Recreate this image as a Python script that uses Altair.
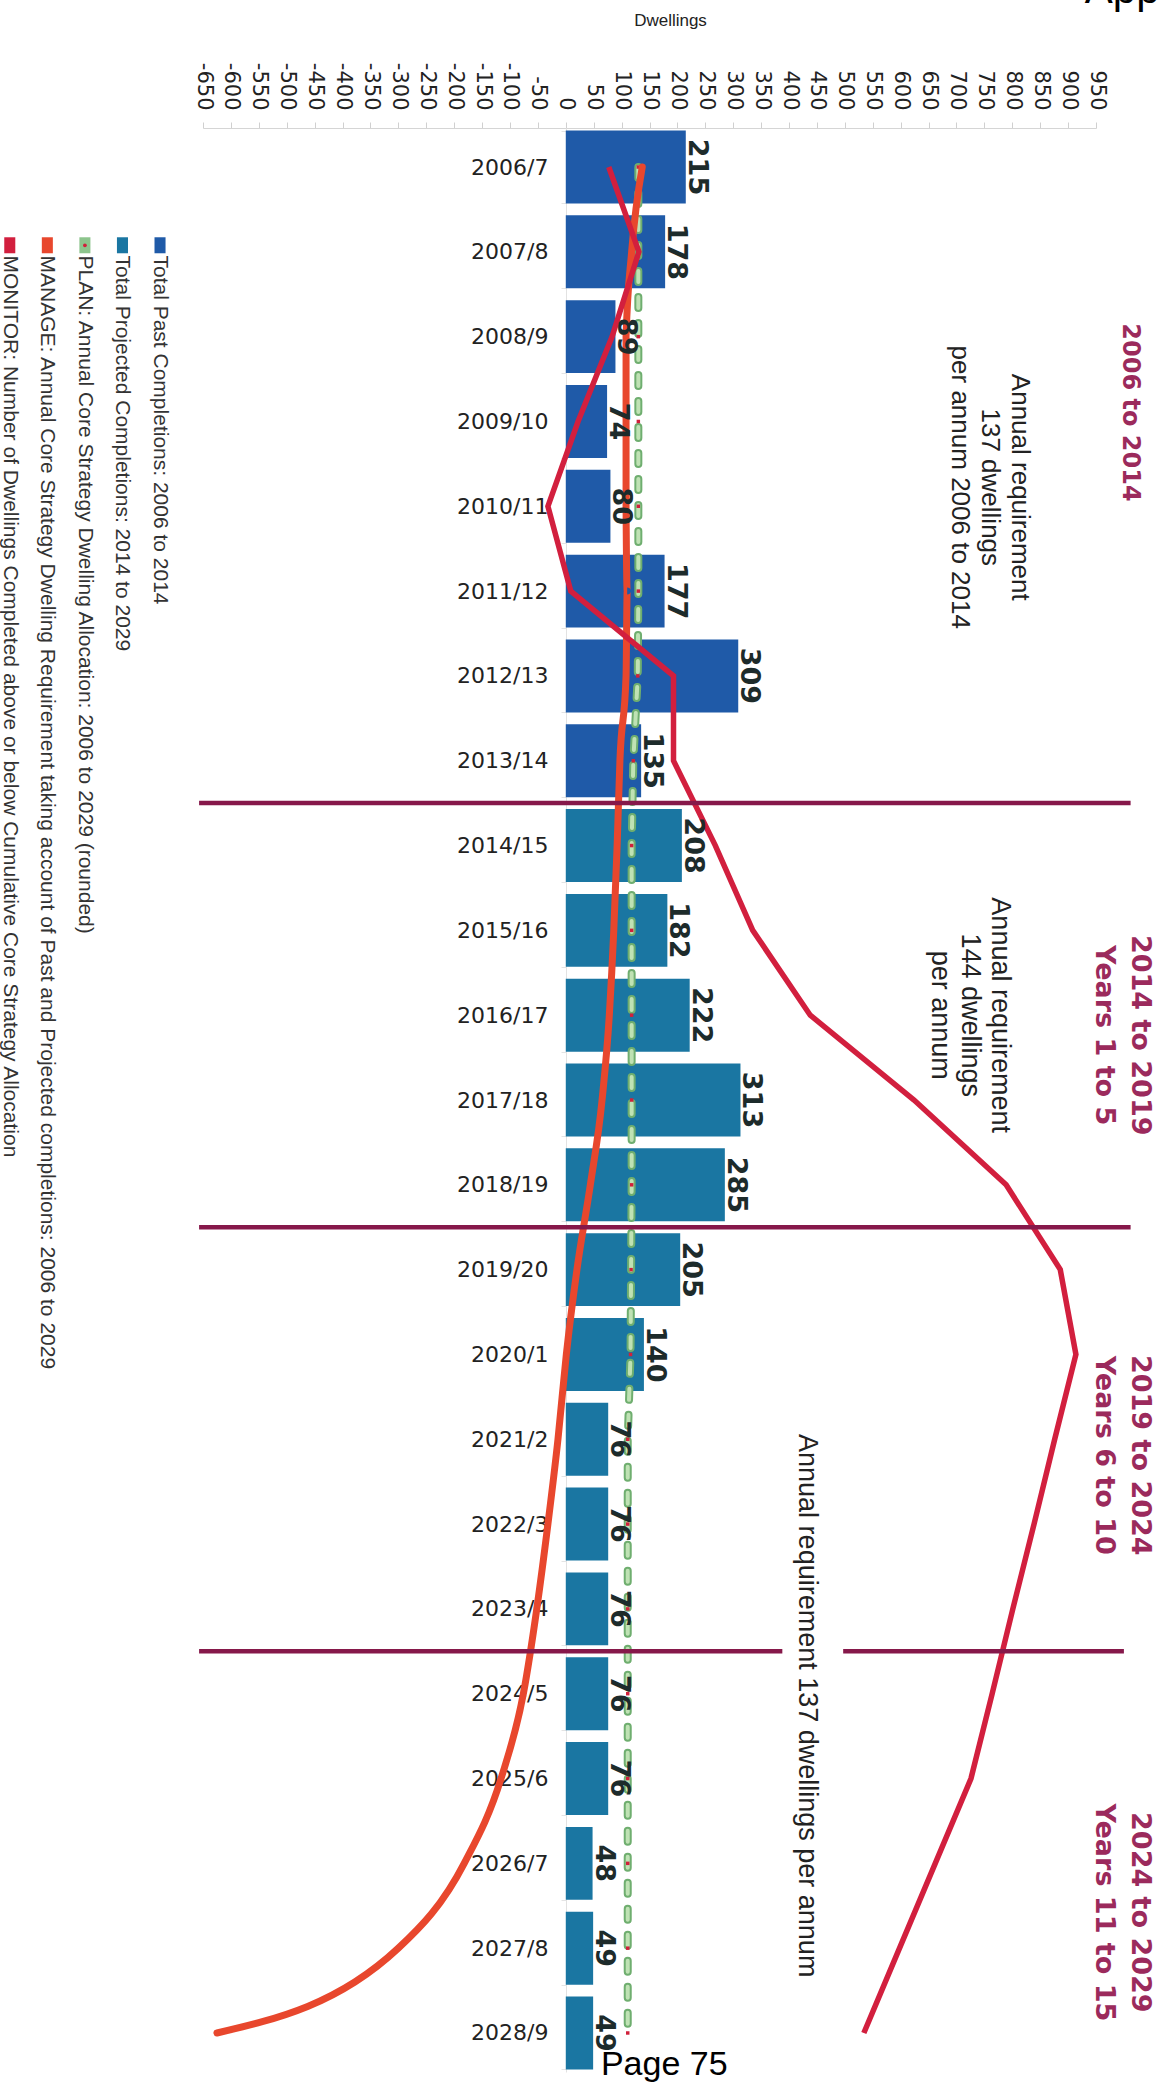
import altair as alt
import pandas as pd

# ---------------- data ----------------
categories = ["2006/7", "2007/8", "2008/9", "2009/10", "2010/11", "2011/12", "2012/13", "2013/14",
              "2014/15", "2015/16", "2016/17", "2017/18", "2018/19", "2019/20", "2020/1", "2021/2",
              "2022/3", "2023/4", "2024/5", "2025/6", "2026/7", "2027/8", "2028/9"]
completions = [215, 178, 89, 74, 80, 177, 309, 135, 208, 182, 222, 313, 285, 205, 140,
               76, 76, 76, 76, 76, 48, 49, 49]
series_names = ["Total Past Completions: 2006 to 2014", "Total Projected Completions: 2014 to 2029"]
completion_type = [series_names[0]] * 8 + [series_names[1]] * 15
plan = [130, 130, 130, 130, 130, 130, 129, 121, 118, 118, 118, 118, 118, 117, 116,
        111, 111, 111, 111, 111, 111, 111, 111]
manage = [137, 118, 108, 108, 108, 110, 108, 97, 92, 86, 78, 65, 44, 20, 1,
          -14, -32, -52, -76, -116, -182, -300, -625]
monitor = [77, 131, 83, 22, -32, 9, 193, 193, 268, 335, 438, 624, 789, 886, 914,
           876, 839, 801, 764, 726, 662, 598, 534]
x_ticks = list(range(-650, 951, 50))

legend_labels = [
    "Total Past Completions: 2006 to 2014",
    "Total Projected Completions: 2014 to 2029",
    "PLAN: Annual Core Strategy Dwelling Allocation: 2006 to 2029 (rounded)",
    "MANAGE: Annual Core Strategy Dwelling Requirement taking account of Past and Projected completions: 2006 to 2029",
    "MONITOR: Number of Dwellings Completed above or below Cumulative Core Strategy Allocation",
]
legend_colors = ["#1f5aa8", "#1a76a2", "#8cc48c", "#e8472d", "#d21f3e"]

period_starts = ["2014/15", "2019/20", "2024/5"]

# ---------------- styling / layout ----------------
C_PAST, C_PROJ = "#1f5aa8", "#1a76a2"
C_MANAGE, C_MONITOR = "#e8472d", "#d21f3e"
C_DIV, C_PERIOD = "#86184a", "#9b2a5c"
W, H = 893, 1944

xscale = alt.Scale(domain=[-650, 950], nice=False, zero=False)
yscale = alt.Scale(domain=categories, paddingInner=0.14, paddingOuter=0.03)

x_axis = alt.Axis(orient="top", values=x_ticks, labelAngle=90, labelAlign="right",
                  labelBaseline="middle", labelExpr="'' + datum.value",
                  labelFont="DejaVu Sans", labelFontSize=21, labelColor="#222",
                  labelPadding=12, labelOverlap=False, labelFlush=False,
                  tickSize=6, tickColor="#d0d0d0", domainColor="#d5d5d5", grid=False,
                  title="Dwellings", titleFont="Liberation Sans", titleFontSize=17,
                  titleFontWeight="normal", titleColor="#222", titlePadding=33,
                  titleX=467, titleAlign="center")
y_axis = alt.Axis(orient="left", offset=-363, title=None, labelFont="DejaVu Sans",
                  labelFontSize=22, labelColor="#222", labelPadding=13, tickSize=5,
                  tickColor="#e4e4e4", domainColor="#e2e2e2", tickBand="extent",
                  labelLimit=0, grid=False)


def X(field, **kw):
    return alt.X(field, scale=xscale, axis=x_axis, **kw)


def Y(field="cat:N", **kw):
    return alt.Y(field, scale=yscale, axis=y_axis, **kw)


df = pd.DataFrame({
    "idx": list(range(len(categories))),
    "cat": categories,
    "completions": completions,
    "type": completion_type,
    "plan": plan,
    "manage": manage,
    "monitor": monitor,
})

bars = alt.Chart(df).mark_bar().encode(
    x=X("completions:Q"),
    x2=alt.datum(0),
    y=Y("cat:N"),
    color=alt.Color("type:N", scale=alt.Scale(domain=series_names, range=[C_PAST, C_PROJ]),
                    legend=None),
)

plan_outer = alt.Chart(df).mark_line(strokeWidth=8, strokeCap="round", strokeDash=[11, 15],
                                     color="#6fae6f").encode(
    x=X("plan:Q"), y=Y(), order="idx:Q")
plan_inner = alt.Chart(df).mark_line(strokeWidth=4, strokeCap="round", strokeDash=[11, 15],
                                     color="#bfe2b4").encode(
    x=X("plan:Q"), y=Y(), order="idx:Q")
plan_marks = alt.Chart(df).mark_point(filled=True, size=12, shape="square", color="#d0203a",
                                      opacity=1).encode(x=X("plan:Q"), y=Y())

manage_line = alt.Chart(df).mark_line(strokeWidth=7, strokeCap="round", interpolate="monotone",
                                      color=C_MANAGE).encode(
    x=X("manage:Q"), y=Y(), order="idx:Q")
monitor_line = alt.Chart(df).mark_line(strokeWidth=5.5, color=C_MONITOR).encode(
    x=X("monitor:Q"), y=Y(), order="idx:Q")

bar_labels = alt.Chart(df).mark_text(angle=90, align="center", baseline="alphabetic", dy=-3,
                                     font="DejaVu Sans", fontSize=27, fontWeight="bold",
                                     color="#1d2b2b").encode(
    x=X("completions:Q"), y=Y(), text="completions:Q")

# period dividers (layout extents in dwelling units)
DIV_LEFT, DIV_RIGHT = -657, 1012
div_df = pd.DataFrame({
    "cat": [period_starts[0], period_starts[1], period_starts[2], period_starts[2]],
    "x1": [DIV_LEFT, DIV_LEFT, DIV_LEFT, 497],
    "x2": [DIV_RIGHT, DIV_RIGHT, 388, 1000],
})
dividers = alt.Chart(div_df).mark_rule(color=C_DIV, strokeWidth=4.5, yOffset=-6).encode(
    x=X("x1:Q"), x2="x2:Q", y=Y("cat:N", bandPosition=0))


def note(text, xval, cat, dx=0, size=27, color="#222", weight="normal",
         font="Liberation Sans", line_height=30, angle=90, align="center",
         baseline="middle", dy=0):
    d = pd.DataFrame({"cat": [cat], "x": [xval], "t": [text]})
    return alt.Chart(d).mark_text(angle=angle, align=align, baseline=baseline, dx=dx, dy=dy,
                                  fontSize=size, font=font, fontWeight=weight, color=color,
                                  lineBreak="\n", lineHeight=line_height).encode(
        x=X("x:Q"), y=Y(), text="t:N")


notes = [
    note("Annual requirement\n137 dwellings\nper annum 2006 to 2014", 814, "2010/11", dx=-19,
         size=26),
    note("Annual requirement\n144 dwellings\nper annum", 778, "2016/17", dx=0),
    note("Annual requirement 137 dwellings per annum", 432, "2024/5", dx=12),
    note("2006 to 2014", 1011, "2009/10", dx=-9, size=24, color=C_PERIOD, weight="bold",
         font="DejaVu Sans"),
    note("2014 to 2019\nYears 1 to 5", 1028, "2016/17", dx=20, size=27, color=C_PERIOD,
         weight="bold", font="DejaVu Sans", line_height=36),
    note("2019 to 2024\nYears 6 to 10", 1028, "2021/2", dx=16, size=27, color=C_PERIOD,
         weight="bold", font="DejaVu Sans", line_height=36),
    note("2024 to 2029\nYears 11 to 15", 1028, "2026/7", dx=49, size=27, color=C_PERIOD,
         weight="bold", font="DejaVu Sans", line_height=36),
    note("Page 75", 63, "2028/9", angle=0, align="left", baseline="alphabetic", dy=42,
         size=34, color="#000"),
    note("App", 930, "2006/7", angle=0, align="left", baseline="alphabetic", dy=-164,
         size=42, color="#000"),
]

# manual rotated legend on the left
LEG_X0, LEG_STEP = -727, -67.3
leg_df = pd.DataFrame({
    "cat": ["2007/8"] * len(legend_labels),
    "x": [LEG_X0 + LEG_STEP * i for i in range(len(legend_labels))],
    "label": legend_labels,
    "col": legend_colors,
})
swatch_shape = "M-0.69,-1L0.69,-1L0.69,1L-0.69,1Z"
leg_swatch = alt.Chart(leg_df).mark_point(filled=True, opacity=1, size=256,
                                          shape=swatch_shape).encode(
    x=X("x:Q"), y=Y("cat:N", bandPosition=0.41), color=alt.Color("col:N", scale=None))
leg_dot = alt.Chart(leg_df.iloc[[2]]).mark_point(filled=True, opacity=1, size=14,
                                                  shape="circle", color="#d0203a").encode(
    x=X("x:Q"), y=Y("cat:N", bandPosition=0.41))
leg_text = alt.Chart(leg_df).mark_text(angle=90, align="left", baseline="middle",
                                       font="Liberation Sans", fontSize=21,
                                       color="#333").encode(
    x=X("x:Q"), y=Y("cat:N", bandPosition=0.55), text="label:N")

chart = alt.layer(
    bars, plan_outer, plan_inner, plan_marks, manage_line, monitor_line, bar_labels,
    dividers, *notes, leg_swatch, leg_dot, leg_text,
).properties(
    width=W, height=H,
    background="white",
    autosize=alt.AutoSizeParams(type="none"),
    padding={"left": 203, "top": 128, "right": 71, "bottom": 11},
).configure_view(stroke=None)

chart.save("out.html", embed_options={"renderer": "svg", "actions": False})
